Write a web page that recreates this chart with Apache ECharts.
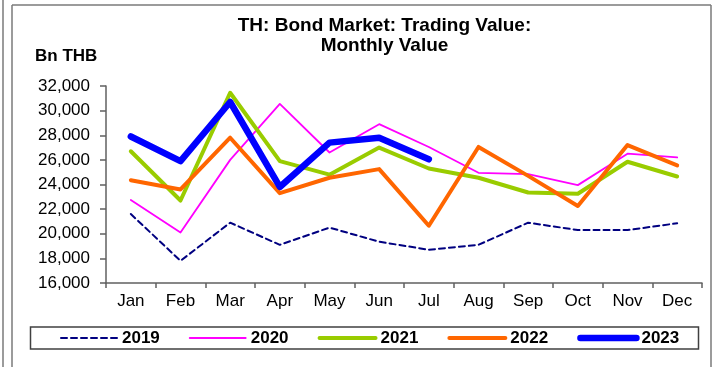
<!DOCTYPE html>
<html>
<head>
<meta charset="utf-8">
<script src="https://cdn.jsdelivr.net/npm/echarts@6/dist/echarts.min.js"></script>
<style>
  html, body { margin: 0; padding: 0; background: #ffffff; }
  #chart { width: 712px; height: 367px; }
</style>
</head>
<body>
<div id="chart"></div>
<script>
// Monthly bond market trading value, billion THB
const months = ['Jan', 'Feb', 'Mar', 'Apr', 'May', 'Jun', 'Jul', 'Aug', 'Sep', 'Oct', 'Nov', 'Dec'];
const v2019 = [21600, 17800, 20900, 19100, 20500, 19350, 18700, 19100, 20900, 20300, 20300, 20850];
const v2020 = [22750, 20100, 26000, 30550, 26600, 28900, 27050, 24950, 24850, 23950, 26500, 26200];
const v2021 = [26700, 22700, 31450, 25900, 24800, 27000, 25300, 24550, 23350, 23250, 25850, 24650];
const v2022 = [24350, 23600, 27800, 23300, 24550, 25250, 20650, 27050, 24700, 22250, 27200, 25550];
const v2023 = [27900, 25900, 30700, 23800, 27400, 27800, 26050];
const yTicks = { min: 16000, max: 32000, step: 2000 };

const font = 'Arial, "Liberation Sans", sans-serif';
const axisGrey = '#606060';
const frameGrey = '#7a7a7a';

// one entry per year: colour, stroke width, dash pattern
const styles = {
  '2019': { color: '#000080', width: 2, type: [6, 4] },
  '2020': { color: '#ff00ff', width: 1.8, type: 'solid' },
  '2021': { color: '#99cc00', width: 4, type: 'solid' },
  '2022': { color: '#ff6600', width: 4, type: 'solid' },
  '2023': { color: '#0000ff', width: 6.5, type: 'solid' }
};

function lineSeries(name, data) {
  const s = styles[name];
  return {
    name: name,
    type: 'line',
    data: data,
    symbol: 'none',
    silent: true,
    lineStyle: { color: s.color, width: s.width, type: s.type, cap: 'round', join: 'round' },
    itemStyle: { color: s.color }
  };
}

function legendItem(name) {
  const s = styles[name];
  return {
    name: name,
    itemStyle: { color: 'rgba(0,0,0,0)', borderWidth: 0, opacity: 0 },
    lineStyle: { color: s.color, width: s.width, type: s.type, cap: 'round' }
  };
}

const chart = echarts.init(document.getElementById('chart'), null, { renderer: 'canvas' });

chart.setOption({
  animation: false,
  backgroundColor: '#ffffff',
  title: {
    text: 'TH: Bond Market: Trading Value:\nMonthly Value',
    left: 384.5,
    top: 16,
    textAlign: 'center',
    padding: 0,
    textStyle: { fontFamily: font, fontSize: 19, fontWeight: 'bold', color: '#000', lineHeight: 20 }
  },
  grid: { left: 106, right: 10, top: 86, bottom: 84, containLabel: false },
  xAxis: {
    type: 'category',
    data: months,
    boundaryGap: true,
    axisLine: { lineStyle: { color: axisGrey, width: 1.5 } },
    axisTick: { show: true, length: 5, inside: false, alignWithLabel: false, lineStyle: { color: axisGrey, width: 1.5 } },
    axisLabel: { margin: 10, fontFamily: font, fontSize: 17, color: '#000', interval: 0 },
    splitLine: { show: false }
  },
  yAxis: {
    type: 'value',
    min: yTicks.min,
    max: yTicks.max,
    interval: yTicks.step,
    axisLine: { show: true, lineStyle: { color: axisGrey, width: 1.5 } },
    axisTick: { show: true, length: 6, inside: false, lineStyle: { color: axisGrey, width: 1.5 } },
    axisLabel: {
      margin: 16,
      fontFamily: font,
      fontSize: 17,
      color: '#000',
      formatter: function (v) { return v.toLocaleString('en-US'); }
    },
    splitLine: { show: false }
  },
  legend: {
    data: ['2019', '2020', '2021', '2022', '2023'].map(legendItem),
    left: 60,
    top: 329,
    padding: 0,
    itemWidth: 56,
    itemHeight: 14,
    itemGap: 29,
    selectedMode: false,
    textStyle: { fontFamily: font, fontSize: 17, fontWeight: 'bold', color: '#000', lineHeight: 18 }
  },
  graphic: [
    // outer frame
    { type: 'line', silent: true, shape: { x1: 3, y1: 0, x2: 3, y2: 367 }, style: { stroke: frameGrey, lineWidth: 1.5 } },
    { type: 'line', silent: true, shape: { x1: 12, y1: 5, x2: 12, y2: 367 }, style: { stroke: frameGrey, lineWidth: 1.5 } },
    { type: 'line', silent: true, shape: { x1: 12, y1: 5, x2: 711, y2: 5 }, style: { stroke: frameGrey, lineWidth: 1.5 } },
    { type: 'line', silent: true, shape: { x1: 711, y1: 5, x2: 711, y2: 367 }, style: { stroke: frameGrey, lineWidth: 1.5 } },
    // legend box
    { type: 'rect', silent: true, z: -1, shape: { x: 30.5, y: 327, width: 668, height: 22 }, style: { fill: '#ffffff', stroke: '#404040', lineWidth: 1.5 } },
    // unit label
    { type: 'text', silent: true, left: 35, top: 48, style: { text: 'Bn THB', fontFamily: font, fontSize: 17, fontWeight: 'bold', fill: '#000' } }
  ],
  series: [
    lineSeries('2019', v2019),
    lineSeries('2020', v2020),
    lineSeries('2021', v2021),
    lineSeries('2022', v2022),
    lineSeries('2023', v2023)
  ]
});
</script>
</body>
</html>
